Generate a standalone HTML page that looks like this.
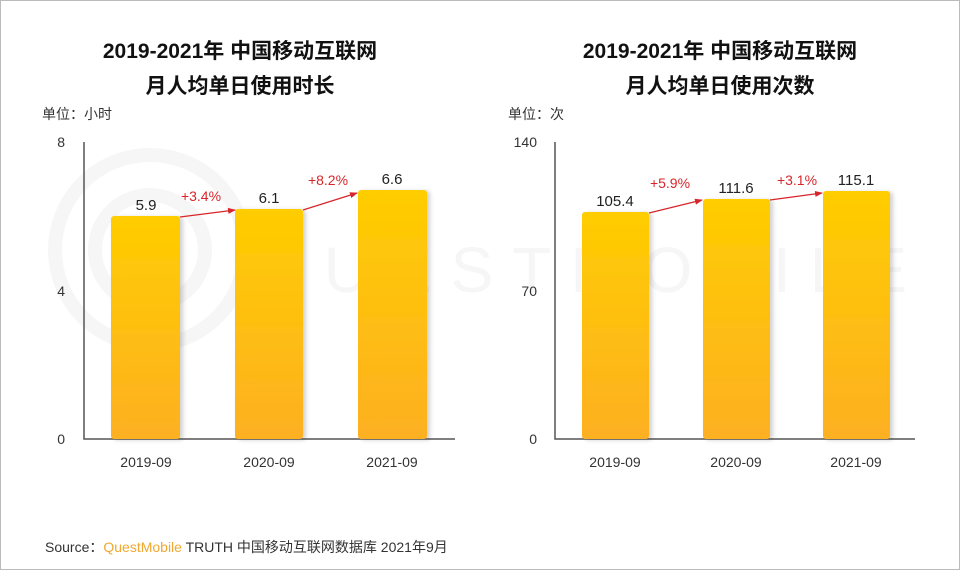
<!DOCTYPE html>
<html><head><meta charset="utf-8"><style>
body{margin:0}
svg text{font-family:"Liberation Sans","Noto Sans CJK SC",sans-serif}
</style></head><body>
<svg width="960" height="570" xmlns="http://www.w3.org/2000/svg">
<defs>
<linearGradient id="g" x1="0" y1="0" x2="0" y2="1"><stop offset="0" stop-color="#FFCD00"/><stop offset="1" stop-color="#FDB022"/></linearGradient>
<filter id="s" x="-10%" y="-10%" width="130%" height="120%"><feDropShadow dx="3" dy="1" stdDeviation="2" flood-color="#000" flood-opacity="0.18"/></filter>
<marker id="a" markerWidth="8" markerHeight="8" refX="7" refY="4" orient="auto" markerUnits="userSpaceOnUse"><path d="M0,1 L8,4 L0,7z" fill="#D7262B"/></marker>
</defs>
<rect x="0.5" y="0.5" width="959" height="569" fill="#fff" stroke="#bbb"/>
<g fill="none" stroke="#f6f6f6" stroke-width="14">
<circle cx="150" cy="250" r="95"/><circle cx="150" cy="250" r="55"/>
</g>
<text x="255" y="292" font-size="64" fill="#f6f6f6" letter-spacing="8" textLength="660">QUESTMOBILE</text>
<g font-size="21" font-weight="bold" fill="#111" text-anchor="middle">
<text x="240" y="58">2019-2021年 中国移动互联网</text>
<text x="240" y="93">月人均单日使用时长</text>
<text x="720" y="58">2019-2021年 中国移动互联网</text>
<text x="720" y="93">月人均单日使用次数</text>
</g>
<g font-size="14" fill="#333">
<text x="42" y="119">单位：小时</text>
<text x="508" y="119">单位：次</text>
<text x="65" y="147" text-anchor="end">8</text>
<text x="65" y="296" text-anchor="end">4</text>
<text x="65" y="444" text-anchor="end">0</text>
<text x="537" y="147" text-anchor="end">140</text>
<text x="537" y="296" text-anchor="end">70</text>
<text x="537" y="444" text-anchor="end">0</text>
</g>
<g stroke="#555" stroke-width="1.5" fill="none">
<path d="M84,142 V439 H455"/>
<path d="M555,142 V439 H915"/>
</g>
<g fill="url(#g)" filter="url(#s)">
<rect x="111" y="216" width="69" height="223" rx="3"/>
<rect x="235" y="209" width="68" height="230" rx="3"/>
<rect x="358" y="190" width="69" height="249" rx="3"/>
<rect x="582" y="212" width="67" height="227" rx="3"/>
<rect x="703" y="199" width="67" height="240" rx="3"/>
<rect x="823" y="191" width="67" height="248" rx="3"/>
</g>
<g stroke="#D7262B" stroke-width="1.2" marker-end="url(#a)">
<line x1="180" y1="217" x2="235" y2="210"/>
<line x1="303" y1="210" x2="357" y2="193"/>
<line x1="649" y1="213" x2="702" y2="200"/>
<line x1="770" y1="200" x2="822" y2="193"/>
</g>
<g font-size="15" fill="#222" text-anchor="middle">
<text x="146" y="210">5.9</text><text x="269" y="203">6.1</text><text x="392" y="184">6.6</text>
<text x="615" y="206">105.4</text><text x="736" y="193">111.6</text><text x="856" y="185">115.1</text>
</g>
<g font-size="14" fill="#D7262B" text-anchor="middle">
<text x="201" y="201">+3.4%</text><text x="328" y="185">+8.2%</text>
<text x="670" y="188">+5.9%</text><text x="797" y="185">+3.1%</text>
</g>
<g font-size="14" fill="#333" text-anchor="middle">
<text x="146" y="467">2019-09</text><text x="269" y="467">2020-09</text><text x="392" y="467">2021-09</text>
<text x="615" y="467">2019-09</text><text x="736" y="467">2020-09</text><text x="856" y="467">2021-09</text>
</g>
<text x="45" y="552" font-size="14" fill="#333">Source：<tspan fill="#F0A830">QuestMobile</tspan> TRUTH 中国移动互联网数据库 2021年9月</text>
</svg>
</body></html>
